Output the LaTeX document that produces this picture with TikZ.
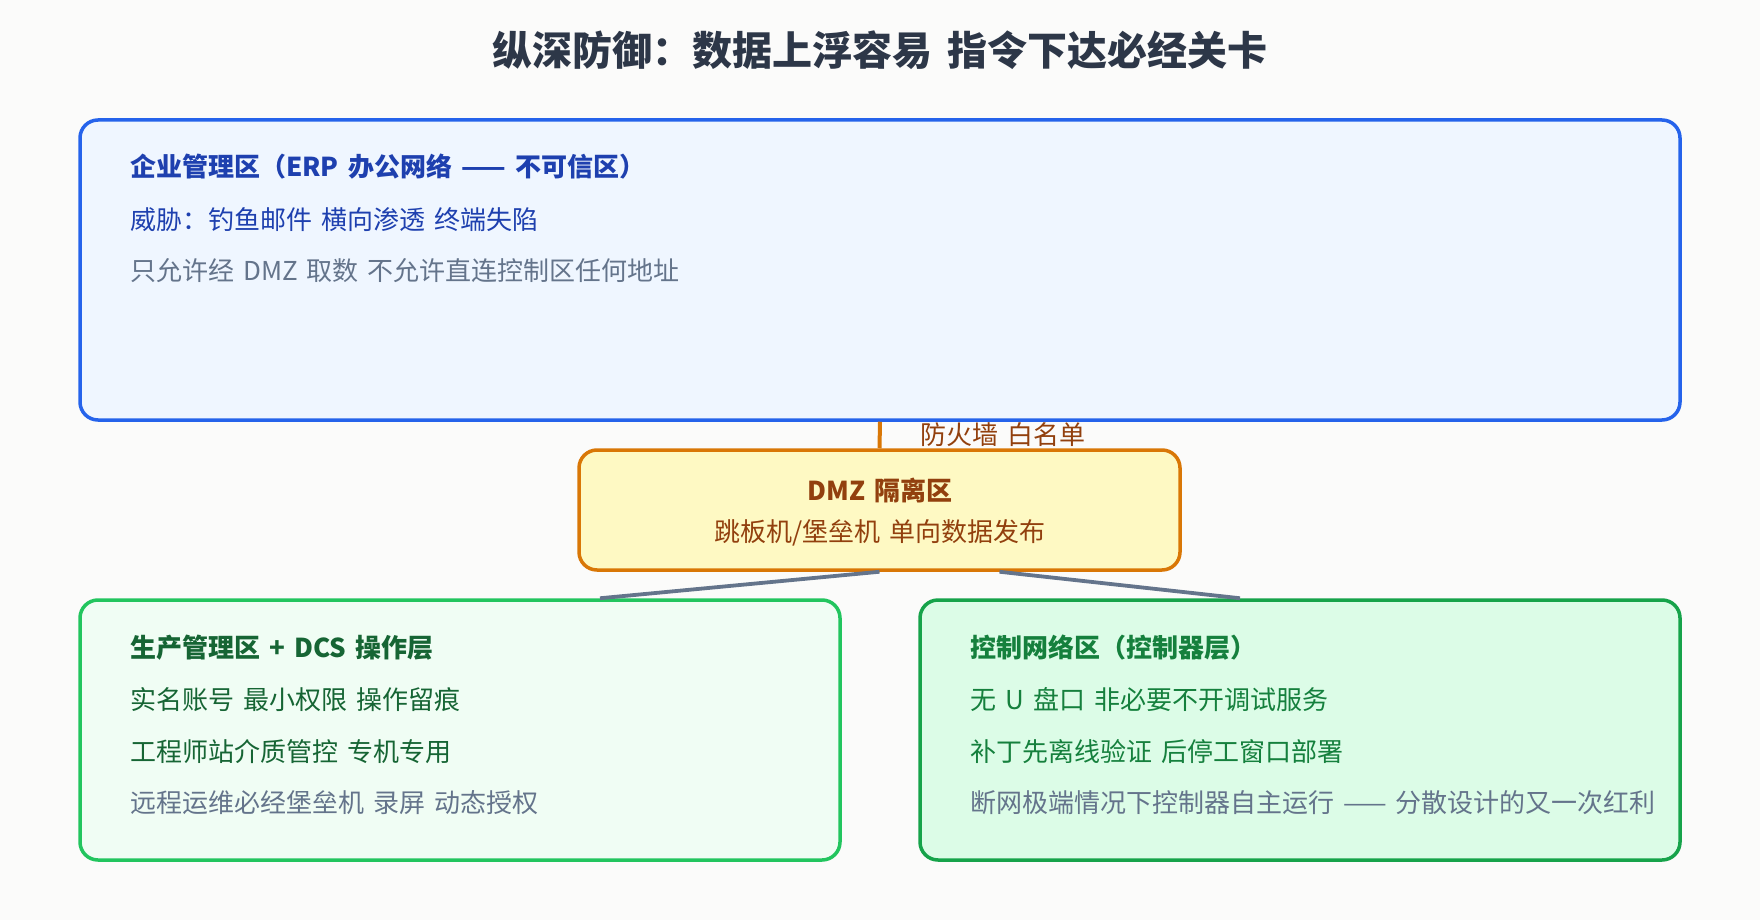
\documentclass[tikz,border=0pt]{standalone}
\usepackage{fontspec}
\setmainfont[WordSpace=1.55]{Noto Sans CJK SC}
\usetikzlibrary{calc}
\definecolor{bgc}{HTML}{FBFBFA}
\definecolor{titlec}{HTML}{2D3748}
\definecolor{blueb}{HTML}{2563EB}
\definecolor{bluef}{HTML}{EFF6FF}
\definecolor{bluet}{HTML}{1E40AF}
\definecolor{grayt}{HTML}{64748B}
\definecolor{orangeb}{HTML}{D97706}
\definecolor{yellowf}{HTML}{FEF9C3}
\definecolor{brownt}{HTML}{92400E}
\definecolor{greenb}{HTML}{22C55E}
\definecolor{greenf}{HTML}{F0FDF4}
\definecolor{greent}{HTML}{166534}
\definecolor{dgreenb}{HTML}{16A34A}
\definecolor{dgreenf}{HTML}{DCFCE7}
\definecolor{dgreent}{HTML}{15803D}
\definecolor{linkc}{HTML}{64748B}
\tikzset{
  zone/.style={rectangle, rounded corners=18pt, line width=3.5pt, inner sep=0pt},
  txt/.style={anchor=base west, inner sep=0pt, font=\fontsize{26}{30}\selectfont},
  head/.style={txt, font=\fontsize{26}{30}\selectfont\bfseries},
  link/.style={line width=3.8pt, draw=linkc},
}
\begin{document}
\begin{tikzpicture}[x=1pt,y=-1pt]
\fill[bgc] (0,0) rectangle (1760,920);
\useasboundingbox (0,0) rectangle (1760,920);

\node[anchor=base, inner sep=0pt, text=titlec, font=\fontsize{40}{46}\selectfont\bfseries] (title) at (880,66) {纵深防御：数据上浮容易 指令下达必经关卡};

% enterprise zone
\node[zone, draw=blueb, fill=bluef, minimum width=1600pt, minimum height=300pt] (ent) at (880,270) {};
\node[head, text=bluet] (ent1) at (130,177) {企业管理区（ERP 办公网络 —— 不可信区）};
\node[txt, text=bluet] (ent2) at (130,229) {威胁：钓鱼邮件 横向渗透 终端失陷};
\node[txt, text=grayt] (ent3) at (130,280.5) {只允许经 DMZ 取数 不允许直连控制区任何地址};

% DMZ
\node[zone, draw=orangeb, fill=yellowf, minimum width=601pt, minimum height=120pt] (dmz) at (879.5,510) {};
\node[anchor=base, inner sep=0pt, text=brownt, font=\fontsize{26}{30}\selectfont\bfseries] (dmz1) at (880,500.5) {DMZ 隔离区};
\node[anchor=base, inner sep=0pt, text=brownt, font=\fontsize{26}{30}\selectfont] (dmz2) at (880,541) {跳板机/堡垒机 单向数据发布};

% production zone
\node[zone, draw=greenb, fill=greenf, minimum width=760pt, minimum height=260pt] (prod) at (460,730) {};
\node[head, text=greent] (prod1) at (130,657.5) {生产管理区 + DCS 操作层};
\node[txt, text=greent] (prod2) at (130,709) {实名账号 最小权限 操作留痕};
\node[txt, text=greent] (prod3) at (130,761) {工程师站介质管控 专机专用};
\node[txt, text=grayt] (prod4) at (130,812.5) {远程运维必经堡垒机 录屏 动态授权};

% control zone
\node[zone, draw=dgreenb, fill=dgreenf, minimum width=760pt, minimum height=260pt] (ctrl) at (1300,730) {};
\node[head, text=dgreent] (ctrl1) at (970,657.5) {控制网络区（控制器层）};
\node[txt, text=dgreent] (ctrl2) at (970,709) {无 U 盘口 非必要不开调试服务};
\node[txt, text=dgreent] (ctrl3) at (970,761) {补丁先离线验证 后停工窗口部署};
\node[txt, text=grayt] (ctrl4) at (970,812.5) {断网极端情况下控制器自主运行 —— 分散设计的又一次红利};

% connectors
\draw[line width=4pt, draw=orangeb] (ent.south) -- (dmz.north);
\node[txt, text=brownt] (fw) at (920,444) {防火墙 白名单};
\draw[link] (dmz.south) -- ($(prod.north)+(140,0)$);
\draw[link] ($(dmz.south)+(120,0)$) -- ($(ctrl.north)+(-60,0)$);
\end{tikzpicture}
\end{document}
